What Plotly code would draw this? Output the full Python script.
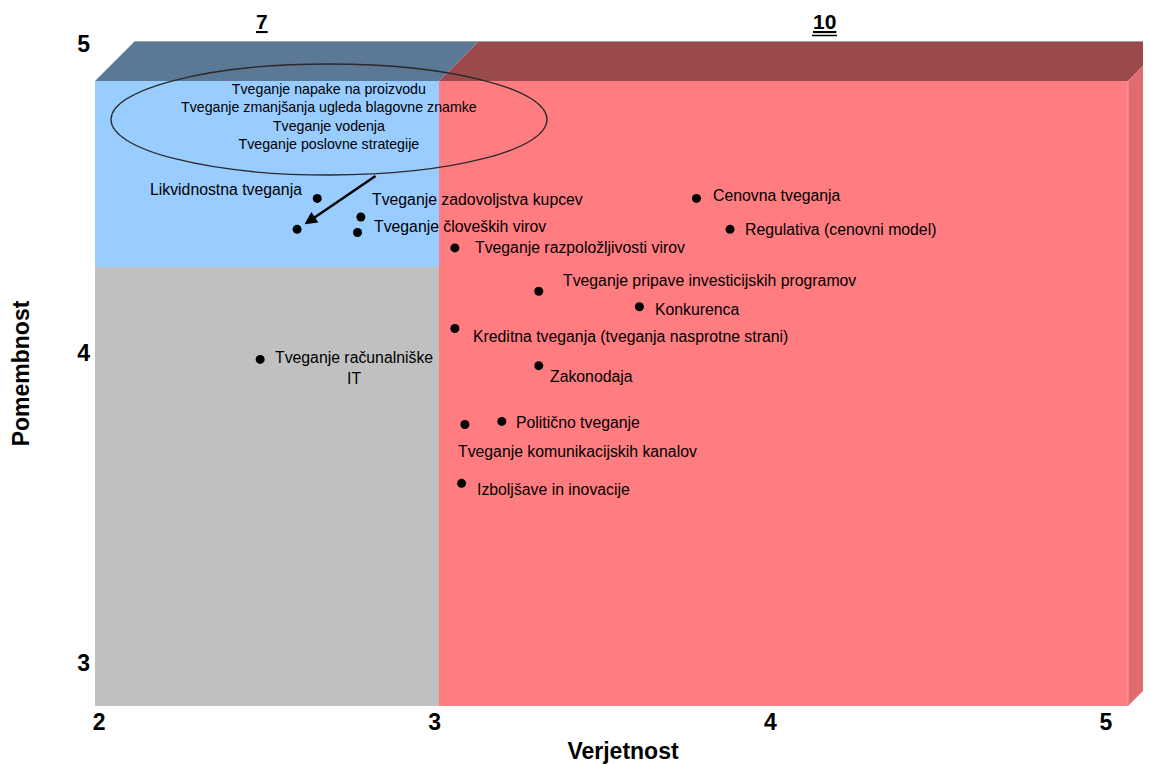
import plotly.graph_objects as go

# ---------------- data ----------------
risk_names = [
    "Likvidnostna tveganja",
    "",  # group point (ellipse with four risks)
    "Tveganje zadovoljstva kupcev",
    "Tveganje človeških virov",
    "Tveganje razpoložljivosti virov",
    "Cenovna tveganja",
    "Regulativa (cenovni model)",
    "Tveganje pripave investicijskih programov",
    "Konkurenca",
    "Kreditna tveganja (tveganja nasprotne strani)",
    "Zakonodaja",
    "Politično tveganje",
    "Tveganje komunikacijskih kanalov",
    "Izboljšave in inovacije",
    "Tveganje računalniške<br>IT",
]
verjetnost = [2.65, 2.59, 2.78, 2.77, 3.06, 3.78, 3.88, 3.31, 3.61, 3.06, 3.31, 3.20, 3.09, 3.08, 2.48]
pomembnost = [4.50, 4.40, 4.44, 4.39, 4.34, 4.50, 4.40, 4.20, 4.15, 4.08, 3.96, 3.78, 3.77, 3.58, 3.98]

ellipse_lines = [
    "Tveganje napake na proizvodu",
    "Tveganje zmanjšanja ugleda blagovne znamke",
    "Tveganje vodenja",
    "Tveganje poslovne strategije",
]
header_labels = ["7", "10"]
x_ticks = [2, 3, 4, 5]
y_ticks = [3, 4, 5]
x_title = "Verjetnost"
y_title = "Pomembnost"

# ---------------- styling / layout helpers ----------------
# page has an 8px body margin, so the figure is a bit smaller and margins shifted
W, H = 1143, 757
ML, MR, MT, MB = 87, 0, 33, 59
PX_X2, PX_PER_X = 99.1, 335.6      # screen pixel of x=2, pixels per unit
PY_Y5, PX_PER_Y = 43.5, 309.75     # screen pixel of y=5, pixels per unit
PLOT_TOP, PLOT_BOTTOM = 41, 706    # screen pixels of plot area


def px2x(p):
    return 2 + (p - PX_X2) / PX_PER_X


def py2y(q):
    return 5 - (q - PY_Y5) / PX_PER_Y


def py2paper(q):
    return (PLOT_BOTTOM - q) / (PLOT_BOTTOM - PLOT_TOP)


FONT = "Liberation Sans, Arial, sans-serif"
LABEL_SIZE = 15.8
ELLIPSE_SIZE = 14.2

# label offsets (xanchor, xshift px, yshift px)
label_style = {
    "Likvidnostna tveganja": ("right", -13, 9),
    "Tveganje zadovoljstva kupcev": ("left", 9, 17),
    "Tveganje človeških virov": ("left", 14, 6),
    "Tveganje razpoložljivosti virov": ("left", 18, 0),
    "Cenovna tveganja": ("left", 15, 3),
    "Regulativa (cenovni model)": ("left", 13, 0),
    "Tveganje pripave investicijskih programov": ("left", 22, 11),
    "Konkurenca": ("left", 14, -3),
    "Kreditna tveganja (tveganja nasprotne strani)": ("left", 16, -8),
    "Zakonodaja": ("left", 9, -11),
    "Politično tveganje": ("left", 12, -1),
    "Tveganje komunikacijskih kanalov": ("left", -9, -27),
    "Izboljšave in inovacije": ("left", 13, -6),
    "Tveganje računalniške<br>IT": ("center", 94, -9),
}

fig = go.Figure()

fig.add_trace(go.Scatter(
    x=verjetnost, y=pomembnost, mode="markers",
    marker=dict(color="black", size=9, symbol="circle"),
    hovertext=risk_names, hoverinfo="text", showlegend=False,
))


def poly(points):
    return "M " + " L ".join(f"{px2x(a)},{py2y(b)}" for a, b in points) + " Z"


shapes = [
    # front faces
    dict(type="rect", x0=px2x(95), x1=px2x(439), y0=py2y(706), y1=py2y(267),
         fillcolor="#C0C0C0", line=dict(width=0), layer="below"),
    dict(type="rect", x0=px2x(95), x1=px2x(439), y0=py2y(267), y1=py2y(81),
         fillcolor="#99CCFF", line=dict(width=0), layer="below"),
    dict(type="rect", x0=px2x(439), x1=px2x(1128), y0=py2y(706), y1=py2y(81),
         fillcolor="#FF7C80", line=dict(width=0), layer="below"),
    # top faces
    dict(type="path", path=poly([(95, 81), (135, 41), (479, 41), (439, 81)]),
         fillcolor="#5B7896", line=dict(width=0), layer="below"),
    dict(type="path", path=poly([(439, 81), (479, 41), (1168, 41), (1128, 81)]),
         fillcolor="#9B4A4C", line=dict(width=0), layer="below"),
    dict(type="line", x0=px2x(135), x1=px2x(1168), y0=py2y(41.5), y1=py2y(41.5),
         line=dict(color="#A0A0A0", width=1), layer="below"),
    # right face
    dict(type="path", path=poly([(1128, 81), (1168, 41), (1168, 666), (1128, 706)]),
         fillcolor="#E06C70", line=dict(width=0), layer="below"),
    dict(type="line", x0=px2x(1128), x1=px2x(1128), y0=py2y(706), y1=py2y(81),
         line=dict(color="#FF9EA2", width=1), layer="below"),
    # ellipse
    dict(type="circle", x0=px2x(111), x1=px2x(547), y0=py2y(175), y1=py2y(64),
         line=dict(color="#2A2A2A", width=1.3), fillcolor="rgba(0,0,0,0)", layer="above"),
    # second underline of the "10" header (double underline)
    dict(type="line", xref="x", yref="paper", x0=px2x(812), x1=px2x(837),
         y0=py2paper(35.5), y1=py2paper(35.5), line=dict(color="black", width=1.5)),
]

annotations = []
for name, xv, yv in zip(risk_names, verjetnost, pomembnost):
    if not name:
        continue
    anchor, dx, dy = label_style[name]
    annotations.append(dict(
        x=xv, y=yv, text=name, showarrow=False, xanchor=anchor, yanchor="middle",
        xshift=dx, yshift=dy, align="center",
        font=dict(family=FONT, size=LABEL_SIZE, color="black"),
    ))

# ellipse text
annotations.append(dict(
    x=px2x(329), y=py2y(116), text="<br>".join(ellipse_lines), showarrow=False,
    xanchor="center", yanchor="middle", align="center",
    font=dict(family=FONT, size=ELLIPSE_SIZE, color="black"),
))
# arrow from ellipse to group point
annotations.append(dict(
    x=verjetnost[1], y=pomembnost[1], ax=px2x(377), ay=py2y(175),
    xref="x", yref="y", axref="x", ayref="y", text="", showarrow=True,
    arrowhead=2, arrowsize=1, arrowwidth=2.5, arrowcolor="black", standoff=9,
))
# header labels
for lbl, xp in zip(header_labels, [262, 824]):
    annotations.append(dict(
        x=px2x(xp), y=1, xref="x", yref="paper", yanchor="bottom", yshift=6,
        text=f"<u>{lbl}</u>", showarrow=False,
        font=dict(family=FONT, size=21, color="black", weight="bold"),
    ))

fig.update_layout(
    width=W, height=H,
    margin=dict(l=ML, r=MR, t=MT, b=MB, autoexpand=False),
    paper_bgcolor="white", plot_bgcolor="white",
    shapes=shapes, annotations=annotations,
    xaxis=dict(
        range=[px2x(95), px2x(1151)], tickvals=x_ticks, ticktext=[str(v) for v in x_ticks],
        showgrid=False, zeroline=False, showline=False, ticks="",
        tickfont=dict(family=FONT, size=23, color="black", weight="bold"),
        title=dict(text=x_title, font=dict(family=FONT, size=23, color="black", weight="bold"),
                   standoff=8),
    ),
    yaxis=dict(
        range=[py2y(706), py2y(41)], tickvals=y_ticks, ticktext=[str(v) for v in y_ticks],
        showgrid=False, zeroline=False, showline=False, ticks="",
        tickfont=dict(family=FONT, size=23, color="black", weight="bold"),
        ticklabelstandoff=4,
        title=dict(text=y_title, font=dict(family=FONT, size=23, color="black", weight="bold"),
                   standoff=50),
    ),
    hovermode="closest",
)

fig.write_html("out.html")
